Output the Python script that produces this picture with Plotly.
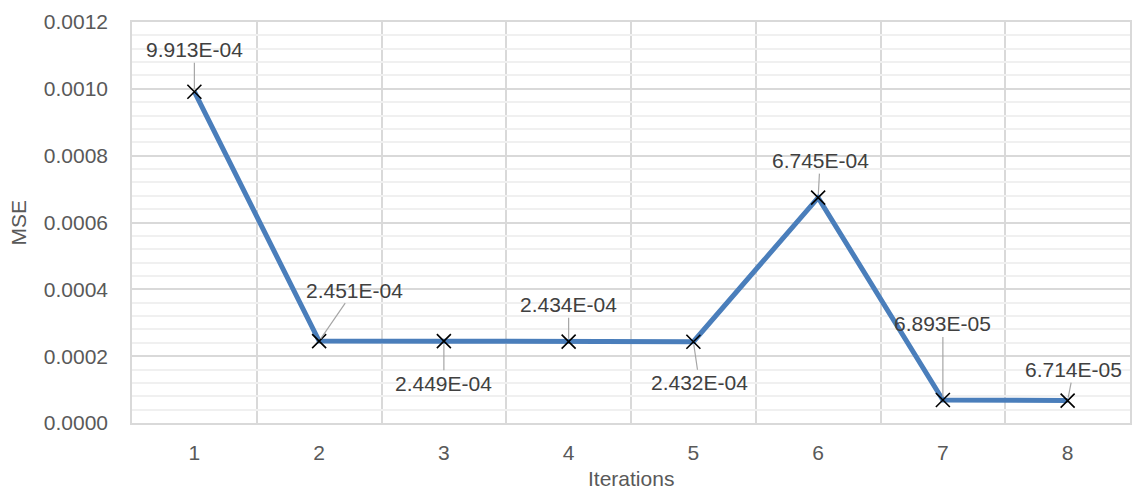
import plotly.graph_objects as go

iterations = [1, 2, 3, 4, 5, 6, 7, 8]
mse = [9.913e-4, 2.451e-4, 2.449e-4, 2.434e-4, 2.432e-4, 6.745e-4, 6.893e-5, 6.714e-5]
labels = ["9.913E-04", "2.451E-04", "2.449E-04", "2.434E-04", "2.432E-04",
          "6.745E-04", "6.893E-05", "6.714E-05"]
# label offsets in pixels (text centre relative to point)
label_dx = [0, 35, 0, 0, 6, 2, 0, 6]
label_dy = [-42, -51, 42, -37, 41, -37, -76, -31]

FONT = "Liberation Sans"
FS = 21

fig = go.Figure()
fig.add_trace(go.Scatter(
    x=iterations, y=mse, mode="lines+markers",
    line=dict(color="#4a7ebb", width=5),
    marker=dict(symbol="x-thin-open", size=14, line=dict(color="black", width=1.6), color="black"),
    showlegend=False, hoverinfo="skip",
))

for xi, yi, t, dx, dy in zip(iterations, mse, labels, label_dx, label_dy):
    fig.add_annotation(
        x=xi, y=yi, text=t, showarrow=True, arrowhead=0, arrowwidth=1.2,
        arrowcolor="#a6a6a6", ax=dx, ay=dy, standoff=3,
        font=dict(family=FONT, size=FS, color="#404040"),
    )

fig.add_annotation(xref="paper", yref="paper", x=0.5, y=-55 / 401, yanchor="middle",
                   text="Iterations", showarrow=False,
                   font=dict(family=FONT, size=FS, color="#595959"))
fig.add_annotation(xref="paper", yref="paper", x=-114 / 998, y=0.5, xanchor="center",
                   text="MSE", textangle=-90, showarrow=False,
                   font=dict(family=FONT, size=FS, color="#595959"))

fig.update_layout(
    width=1134, height=490,
    margin=dict(l=132, r=4, t=22, b=67),
    paper_bgcolor="white", plot_bgcolor="white",
    font=dict(family=FONT, size=FS, color="#595959"),
    xaxis=dict(
        range=[0.5, 8.5], tickmode="array", tickvals=iterations,
        ticktext=[str(i) for i in iterations], showgrid=False, zeroline=False,
        showline=True, mirror=True, linecolor="#d9d9d9", linewidth=1.5,
        ticks="", ticklabelstandoff=10, automargin=False,
        minor=dict(tick0=0.5, dtick=1, showgrid=True, gridcolor="#d9d9d9", gridwidth=1.5, ticks=""),
    ),
    yaxis=dict(
        range=[0, 0.0012], dtick=0.0002, tick0=0, tickformat=".4f",
        showgrid=True, gridcolor="#d9d9d9", gridwidth=1.5, zeroline=False,
        showline=True, mirror=True, linecolor="#d9d9d9", linewidth=1.5,
        ticks="", ticklabelstandoff=18, automargin=False,
        minor=dict(dtick=0.00004, tick0=0, showgrid=True, gridcolor="#f0f0f0", gridwidth=1.5, ticks=""),
    ),
)

fig.write_html("out.html", config={"displayModeBar": False},
               post_script="document.body.style.margin='0';document.body.style.overflow='hidden';")
